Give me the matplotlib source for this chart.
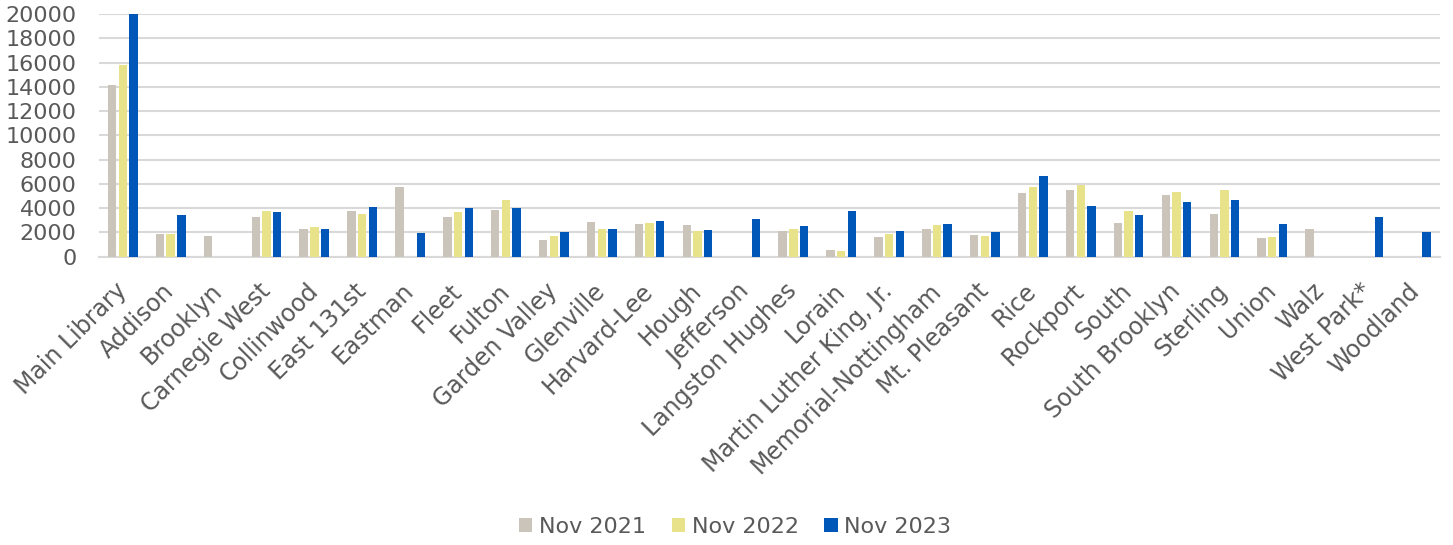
import matplotlib
matplotlib.use("Agg")
import matplotlib.pyplot as plt
import numpy as np

categories = ["Main Library", "Addison", "Brooklyn", "Carnegie West", "Collinwood",
              "East 131st", "Eastman", "Fleet", "Fulton", "Garden Valley", "Glenville",
              "Harvard-Lee", "Hough", "Jefferson", "Langston Hughes", "Lorain",
              "Martin Luther King, Jr.", "Memorial-Nottingham", "Mt. Pleasant", "Rice",
              "Rockport", "South", "South Brooklyn", "Sterling", "Union", "Walz",
              "West Park*", "Woodland"]

nov_2021 = [14200, 1850, 1680, 3270, 2250, 3760, 5710, 3270, 3820, 1380, 2890,
            2700, 2640, 0, 2090, 520, 1600, 2310, 1790, 5280, 5530, 2810, 5090,
            3550, 1570, 2280, 0, 0]
nov_2022 = [15820, 1850, 0, 3760, 2420, 3550, 0, 3710, 4650, 1710, 2280,
            2750, 2090, 0, 2260, 470, 1900, 2610, 1710, 5750, 5940, 3800, 5310,
            5500, 1600, 0, 0, 0]
nov_2023 = [20050, 3440, 0, 3690, 2280, 4070, 1920, 4010, 4020, 2010, 2310,
            2940, 2170, 3080, 2530, 3770, 2090, 2700, 2010, 6630, 4210, 3470, 4510,
            4650, 2720, 0, 3250, 2060]

series_names = ["Nov 2021", "Nov 2022", "Nov 2023"]
colors = ["#CBC4BB", "#E8E28A", "#0057B8"]
yticks = list(range(0, 20001, 2000))

plt.rcParams["font.family"] = ["DejaVu Sans"]
fig = plt.figure(figsize=(14.53, 5.45), dpi=100)
ax = fig.add_axes([0.068, 0.529, 0.923, 0.445])

x = np.arange(len(categories))
step = 0.223
width = 0.175
for i, (vals, name, c) in enumerate(zip([nov_2021, nov_2022, nov_2023], series_names, colors)):
    ax.bar(x + (i - 1) * step, vals, width=width, color=c, label=name, zorder=3)

ax.set_xlim(-0.5, len(categories) - 0.5)
ax.set_ylim(0, 20000)
ax.set_yticks(yticks)
ax.set_yticklabels([str(t) for t in yticks], fontsize=16, color="#595959")
ax.set_xticks(x)
ax.set_xticklabels(categories, rotation=45, ha="right", va="center", rotation_mode="anchor",
                   fontsize=17, color="#595959")
ax.tick_params(axis="both", length=0)
ax.tick_params(axis="x", pad=22)
ax.tick_params(axis="y", pad=16)
ax.grid(axis="y", color="#D9D9D9", linewidth=1.5, zorder=0)
for s in ["top", "right", "left"]:
    ax.spines[s].set_visible(False)
ax.spines["bottom"].set_color("#D9D9D9")
ax.spines["bottom"].set_linewidth(1.5)

handles, labels = ax.get_legend_handles_labels()
leg = fig.legend(handles, labels, loc="center", bbox_to_anchor=(0.506, 0.033),
                 ncol=3, frameon=False, fontsize=16, handlelength=0.6, handleheight=0.6,
                 handletextpad=0.3, columnspacing=1.15)
for t in leg.get_texts():
    t.set_color("#595959")

fig.savefig("out.png", dpi=100)
